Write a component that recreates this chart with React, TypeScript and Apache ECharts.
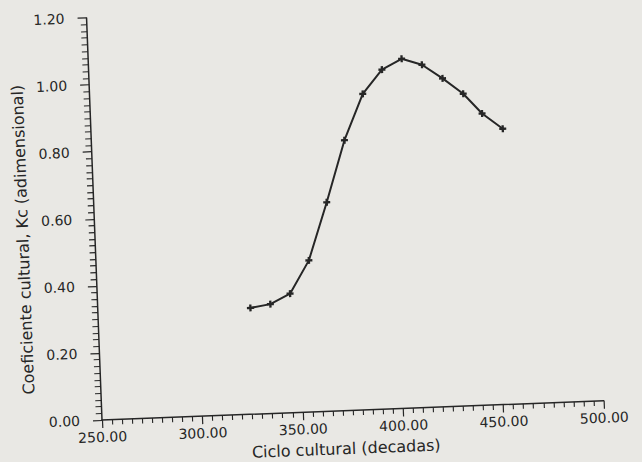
import React, { useEffect, useRef } from "react";
import * as echarts from "echarts";

const cycleDecades = [326, 336, 346, 356, 366, 376, 386, 396, 406, 416, 426, 436, 445, 455];
const kcValues = [0.317, 0.326, 0.355, 0.452, 0.623, 0.806, 0.942, 1.012, 1.042, 1.022, 0.979, 0.931, 0.87, 0.822];

const xAxisTitle = "Ciclo cultural (decadas)";
const yAxisTitle = "Coeficiente cultural, Kc (adimensional)";

const ink = "#262626";
const font = "DejaVu Sans";

export default function App() {
  const ref = useRef<HTMLDivElement>(null);

  useEffect(() => {
    if (!ref.current) return;
    const chart = echarts.init(ref.current, undefined, { renderer: "svg" });
    chart.setOption({
      animation: false,
      backgroundColor: "transparent",
      grid: { left: 102, right: 96, top: 17.6, bottom: 100, containLabel: false, outerBoundsMode: "none" },
      xAxis: {
        type: "value",
        min: 250,
        max: 500,
        interval: 50,
        name: xAxisTitle,
        nameLocation: "middle",
        nameGap: 30,
        nameTextStyle: { fontFamily: font, fontSize: 16, color: ink, padding: [0, 16, 0, 0] },
        axisLine: { show: true, onZero: false, lineStyle: { color: ink, width: 1.5 } },
        axisTick: { show: true, inside: false, length: 8, lineStyle: { color: ink, width: 1.2 } },
        minorTick: { show: true, splitNumber: 10, length: 5, lineStyle: { color: ink, width: 1.1 } },
        splitLine: { show: false },
        axisLabel: {
          margin: 10,
          fontFamily: font,
          fontSize: 14,
          color: ink,
          formatter: (v: number) => v.toFixed(2),
        },
      },
      yAxis: {
        type: "value",
        min: 0,
        max: 1.2,
        interval: 0.2,
        name: yAxisTitle,
        nameLocation: "middle",
        nameGap: 56,
        nameTextStyle: { fontFamily: font, fontSize: 16, color: ink, padding: [0, 36, 0, 0] },
        axisLine: { show: true, onZero: false, lineStyle: { color: ink, width: 1.5 } },
        axisTick: { show: true, inside: false, length: 9, lineStyle: { color: ink, width: 1.2 } },
        minorTick: { show: true, splitNumber: 10, length: 6, lineStyle: { color: ink, width: 1.1 } },
        splitLine: { show: false },
        axisLabel: {
          margin: 22,
          fontFamily: font,
          fontSize: 14,
          color: ink,
          formatter: (v: number) => v.toFixed(2),
        },
      },
      series: [
        {
          type: "line",
          data: cycleDecades.map((x, i) => [x, kcValues[i]]),
          symbol: "path://M2,0H4V2H6V4H4V6H2V4H0V2H2Z",
          symbolSize: 7,
          showSymbol: true,
          lineStyle: { color: ink, width: 2 },
          itemStyle: { color: ink },
        },
      ],
    });
    return () => chart.dispose();
  }, []);

  return (
    <div
      style={{
        position: "fixed",
        left: 0,
        top: 0,
        width: 642,
        height: 462,
        background: "#e9e8e4",
        overflow: "hidden",
      }}
    >
      <div
        ref={ref}
        style={{
          position: "absolute",
          left: 0,
          top: 0,
          width: 700,
          height: 520,
          transform: "rotate(-2.2deg)",
          transformOrigin: "102px 420px",
        }}
      />
    </div>
  );
}
